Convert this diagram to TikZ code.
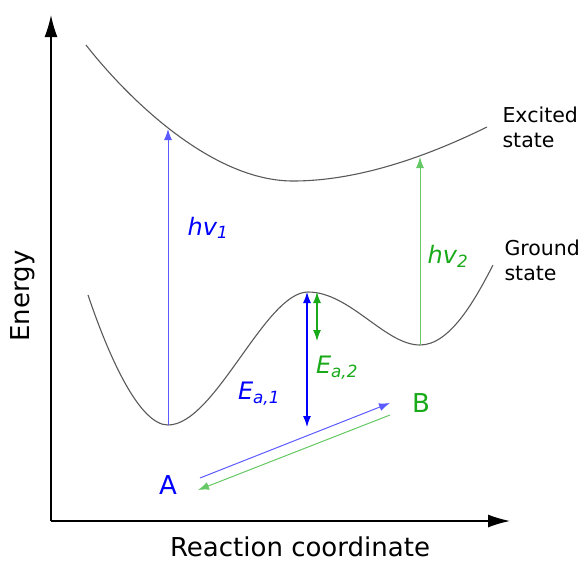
\documentclass[tikz,border=0pt]{standalone}
\usepackage{fontspec}
\setmainfont{DejaVu Sans}
\usetikzlibrary{arrows.meta}
\definecolor{txtblue}{RGB}{0,0,255}
\definecolor{arrblue}{RGB}{90,90,255}
\definecolor{txtgreen}{RGB}{25,170,25}
\definecolor{arrgreen}{RGB}{100,200,100}

\begin{document}
\begin{tikzpicture}[x=1pt, y=-1pt, >={Latex[length=11pt,width=8pt]},
    axis/.style={line width=1.4pt, -{Latex[length=22pt,width=13pt]}},
    curve/.style={line width=1.1pt, black!65},
    axlabel/.style={font=\fontsize{26}{28}\selectfont},
    statelabel/.style={font=\fontsize{20.5}{25}\selectfont, align=left, anchor=west},
    symlabel/.style={font=\fontsize{24}{26}\selectfont\itshape}]
    \useasboundingbox (0,0) rectangle (584,563);

    % Achsen
    \coordinate (origin) at (51,521);
    \coordinate (ytip) at (51,15);
    \coordinate (xtip) at (510,521);
    \draw[axis] (origin) -- (ytip);
    \draw[axis] (origin) -- (xtip);
    \node[axlabel] (xlab) at (300,547) {Reaction coordinate};
    \node[axlabel, rotate=90] (ylab) at (23,296) {Energy};

    % Angeregter Zustand
    \draw[curve] (86,45) .. controls (125,95) and (210,181) .. (293,181)
        .. controls (360,181) and (430,155) .. (487,127);
    % Grundzustand
    \draw[curve] (88,295) .. controls (110,360) and (140,425) .. (168,425)
        .. controls (215,425) and (265,292) .. (308,292)
        .. controls (350,292) and (385,345) .. (420,345)
        .. controls (450,345) and (475,300) .. (493,265);

    \node[statelabel] (exc) at (499,127) {Excited\\state};
    \node[statelabel] (gnd) at (501,260) {Ground\\state};

    % Punkte auf den Kurven
    \coordinate (minA) at (168,425);
    \coordinate (excA) at (168,129);
    \coordinate (minB) at (420,345);
    \coordinate (excB) at (420,157);
    \coordinate (ts1) at (307,292);
    \coordinate (ts2) at (317,292);
    \coordinate (ea1low) at (307,427);
    \coordinate (ea2low) at (317,341);

    % Anregungen
    \draw[->, arrblue, line width=1pt] (minA) -- (excA);
    \node[symlabel, txtblue] (hv1) at (208,228) {hv\textsubscript{1}};
    \draw[->, arrgreen, line width=1pt] (minB) -- (excB);
    \node[symlabel, txtgreen] (hv2) at (448,256) {hv\textsubscript{2}};

    % Aktivierungsenergien
    \draw[<->, txtblue, line width=1.1pt] (ts1) -- (ea1low);
    \node[symlabel, txtblue] (ea1) at (259,394) {E\textsubscript{a,1}};
    \draw[<->, txtgreen, line width=1.1pt] (ts2) -- (ea2low);
    \node[symlabel, txtgreen] (ea2) at (337,368) {E\textsubscript{a,2}};

    % A und B
    \node[axlabel, txtblue] (A) at (168,485) {A};
    \node[axlabel, txtgreen] (B) at (421,403) {B};
    \coordinate (ab1) at (200,478);
    \coordinate (ab2) at (390,403);
    \coordinate (ba1) at (390,415);
    \coordinate (ba2) at (198,490);
    \draw[->, arrblue, line width=1pt] (ab1) -- (ab2);
    \draw[->, arrgreen, line width=1pt] (ba1) -- (ba2);
\end{tikzpicture}
\end{document}
